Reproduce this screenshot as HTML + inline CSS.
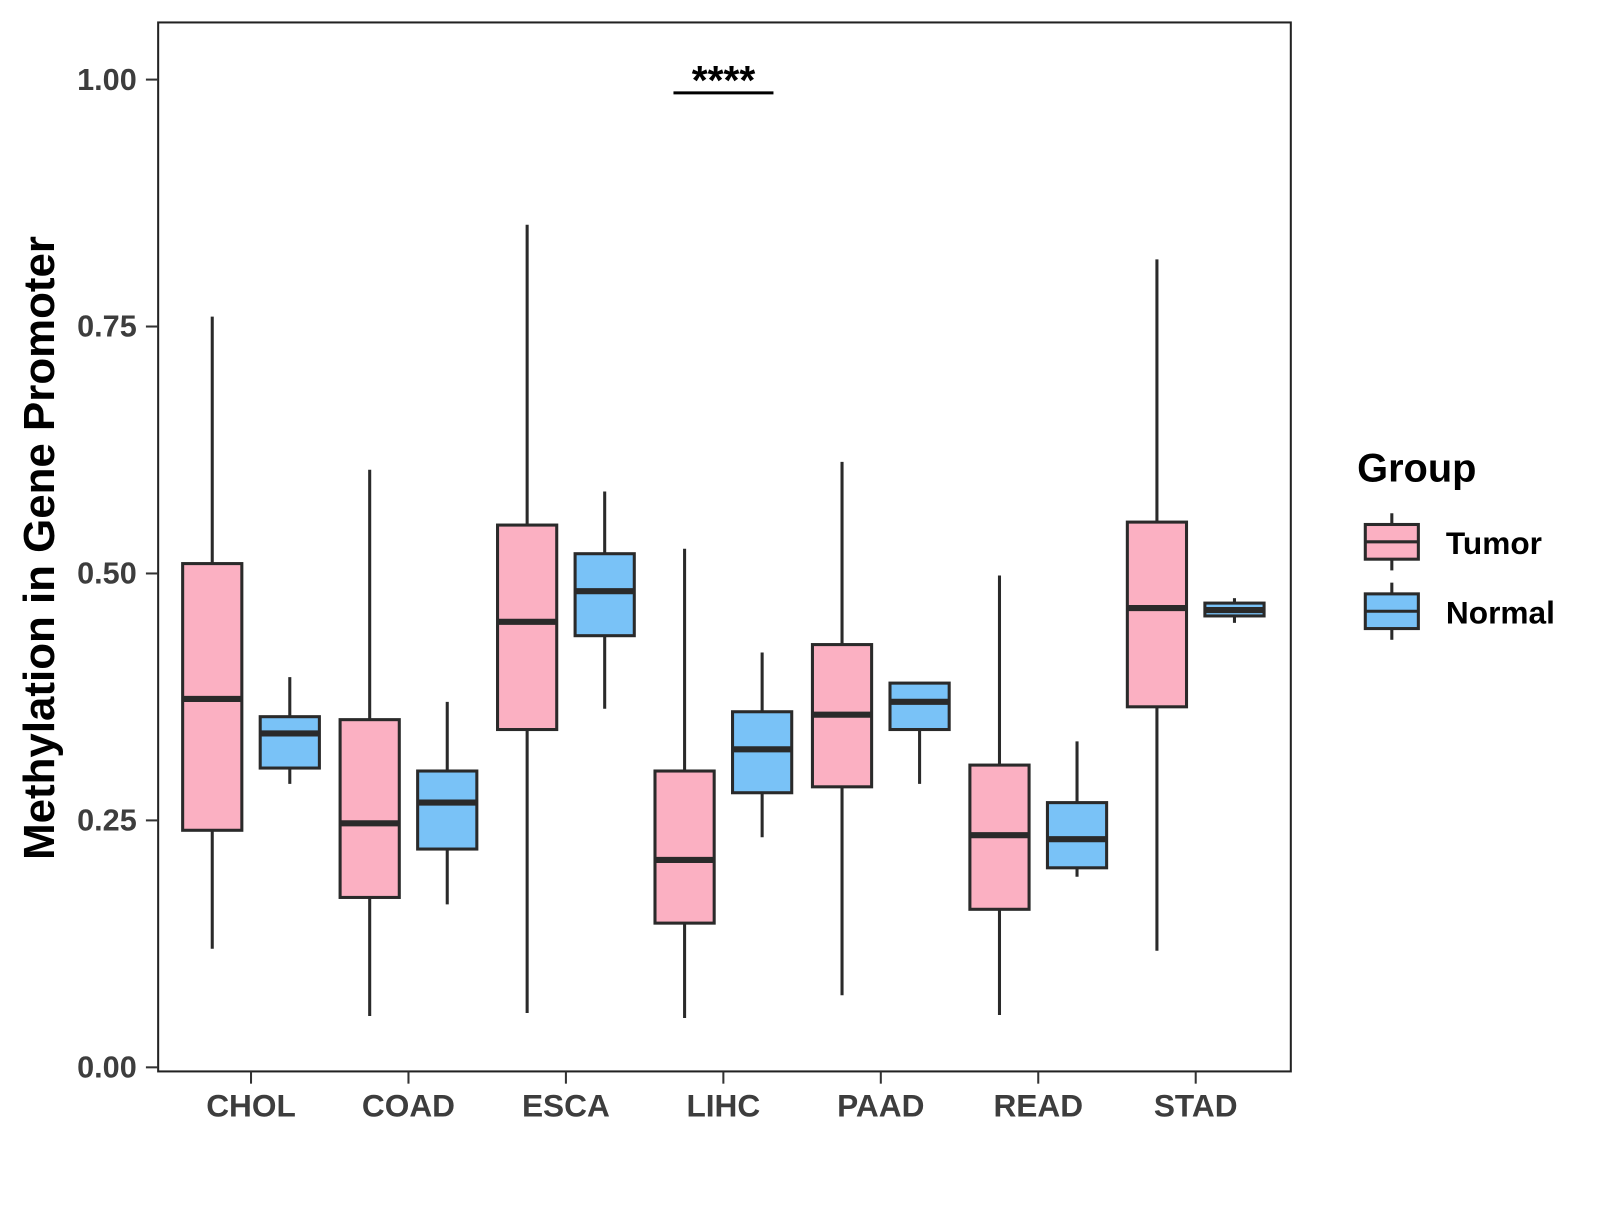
<!DOCTYPE html>
<html><head><meta charset="utf-8"><style>
body{margin:0;background:#fff;width:1600px;height:1200px;overflow:hidden}
svg text{font-family:"Liberation Sans",Arial,sans-serif;font-weight:bold}
</style></head><body>
<svg id="chart" width="1600" height="1200" xmlns="http://www.w3.org/2000/svg">
<g transform="scale(1.0204)">
<rect x="155" y="22" width="1110" height="1028" fill="#fff" stroke="#222" stroke-width="2"/>
<g id="yaxis"></g>
<g id="xaxis"></g>
<g id="boxes"></g>
<text transform="translate(53,537) rotate(-90)" text-anchor="middle" font-size="43" fill="#000">Methylation in Gene Promoter</text>
<g>
<line x1="660" y1="91" x2="758" y2="91" stroke="#000" stroke-width="3"/>
<text x="709" y="92" text-anchor="middle" font-size="40" fill="#000">****</text>
</g>
<g>
<text x="1330" y="472" font-size="39" fill="#000">Group</text>
<g>
<line x1="1364" y1="503" x2="1364" y2="559" stroke="#2a2a2a" stroke-width="3"/>
<rect x="1338" y="514" width="52" height="34" fill="#fbb0c2" stroke="#2a2a2a" stroke-width="3"/>
<line x1="1338" y1="531" x2="1390" y2="531" stroke="#2a2a2a" stroke-width="3"/>
<text x="1417" y="543" font-size="31" fill="#000">Tumor</text></g>
<g>
<line x1="1364" y1="571" x2="1364" y2="627" stroke="#2a2a2a" stroke-width="3"/>
<rect x="1338" y="582" width="52" height="34" fill="#79c2f7" stroke="#2a2a2a" stroke-width="3"/>
<line x1="1338" y1="599" x2="1390" y2="599" stroke="#2a2a2a" stroke-width="3"/>
<text x="1417" y="611" font-size="31" fill="#000">Normal</text></g>
</g>
</g>
</svg>
<script>
const categories=["CHOL","COAD","ESCA","LIHC","PAAD","READ","STAD"];
const tumorMin=[0.12,0.052,0.055,0.05,0.073,0.053,0.118];
const tumorQ1=[0.24,0.172,0.342,0.146,0.284,0.16,0.365];
const tumorMed=[0.373,0.247,0.451,0.21,0.357,0.235,0.465];
const tumorQ3=[0.51,0.352,0.549,0.30,0.428,0.306,0.552];
const tumorMax=[0.76,0.605,0.853,0.525,0.613,0.498,0.818];
const normalMin=[0.287,0.165,0.363,0.233,0.287,0.193,0.45];
const normalQ1=[0.303,0.221,0.437,0.278,0.342,0.202,0.457];
const normalMed=[0.338,0.268,0.482,0.322,0.37,0.231,0.463];
const normalQ3=[0.355,0.30,0.52,0.36,0.389,0.268,0.47];
const normalMax=[0.395,0.37,0.583,0.42,0.389,0.33,0.475];
const yTicks=[0,0.25,0.5,0.75,1.0];
const yTickLabels=["0.00","0.25","0.50","0.75","1.00"];
const NS="http://www.w3.org/2000/svg";
const y=v=>1046-v*968;
const x=i=>246+i*154.3;
function mk(t,a,p){const e=document.createElementNS(NS,t);for(const k in a)e.setAttribute(k,a[k]);p.appendChild(e);return e;}
const ya=document.getElementById('yaxis');
yTicks.forEach((v,i)=>{
 const l=mk('line',{x1:143,x2:155,y1:y(v),y2:y(v),stroke:'#333','stroke-width':2},ya);
 
 
 const t=mk('text',{x:134,y:y(v)+10,'text-anchor':'end','font-size':30,fill:'#3d3d3d'},ya);
 t.textContent=yTickLabels[i];
 
 
});
const xa=document.getElementById('xaxis');
categories.forEach((c,i)=>{
 const l=mk('line',{x1:x(i),x2:x(i),y1:1050,y2:1062,stroke:'#333','stroke-width':2},xa);
 
 
 const t=mk('text',{x:x(i),y:1094,'text-anchor':'middle','font-size':31,fill:'#3d3d3d'},xa);
 t.textContent=c;
 
 
});
const bx=document.getElementById('boxes');
function box(cx,mn,q1,md,q3,mx,fill,name){
 const g=mk('g',{},bx);
 
 
 mk('line',{x1:cx,x2:cx,y1:y(mx),y2:y(mn),stroke:'#2a2a2a','stroke-width':3},g);
 mk('rect',{x:cx-29,y:y(q3),width:58,height:y(q1)-y(q3),fill:fill,stroke:'#2a2a2a','stroke-width':3},g);
 mk('line',{x1:cx-29,x2:cx+29,y1:y(md),y2:y(md),stroke:'#2a2a2a','stroke-width':6},g);
}
categories.forEach((c,i)=>{
 box(x(i)-38,tumorMin[i],tumorQ1[i],tumorMed[i],tumorQ3[i],tumorMax[i],'#fbb0c2','box-tumor-'+c.toLowerCase());
 box(x(i)+38,normalMin[i],normalQ1[i],normalMed[i],normalQ3[i],normalMax[i],'#79c2f7','box-normal-'+c.toLowerCase());
});
</script>
</body></html>
